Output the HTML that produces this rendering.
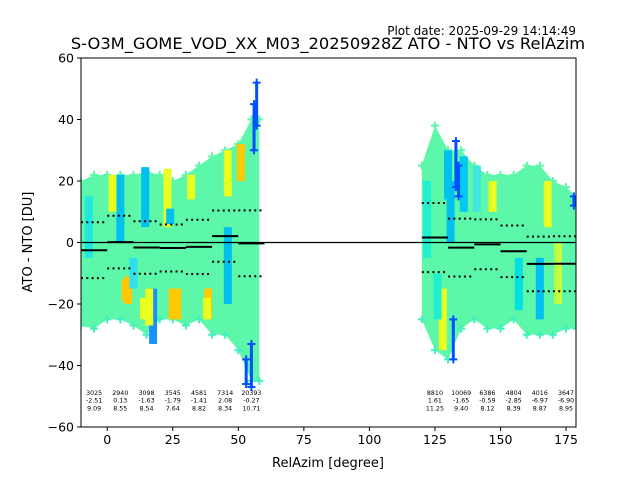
<!DOCTYPE html>
<html><head><meta charset="utf-8"><style>
html,body{margin:0;padding:0;background:#fff;width:640px;height:480px;overflow:hidden}
svg text{font-family:"DejaVu Sans","Liberation Sans",sans-serif}
</style></head><body>
<svg id="chart" width="640" height="480" viewBox="0 0 640 480" xmlns="http://www.w3.org/2000/svg">
<text x="576" y="35" font-size="12" text-anchor="end">Plot date: 2025-09-29 14:14:49</text>
<text x="328" y="49" font-size="16.3" text-anchor="middle">S-O3M_GOME_VOD_XX_M03_20250928Z ATO - NTO vs RelAzim</text>
<defs><clipPath id="pc"><rect x="81" y="58" width="495" height="369"/></clipPath></defs>
<g id="plot" clip-path="url(#pc)"></g>
<g id="axes"></g>
<rect x="81" y="58" width="495" height="369" fill="none" stroke="#000" stroke-width="1"/>
<text x="328" y="467" font-size="13" text-anchor="middle">RelAzim [degree]</text>
<text x="32" y="242" font-size="13" text-anchor="middle" transform="rotate(-90 32 242)">ATO - NTO [DU]</text>
</svg>
<script>
const xTicks=[0,25,50,75,100,125,150,175];
const yTicks=[-60,-40,-20,0,20,40,60];
const binCenters=[-5,5,15,25,35,45,55,125,135,145,155,165,175];
const binCounts=[3025,2940,3098,3545,4581,7314,20393,8810,10069,6386,4804,4016,3647];
const binMeans=[-2.51,0.13,-1.63,-1.79,-1.41,2.08,-0.27,1.61,-1.65,-0.59,-2.85,-6.97,-6.90];
const binStds=[9.09,8.55,8.54,7.64,8.82,8.34,10.71,11.25,9.40,8.12,8.39,8.87,8.95];
const leftAz=[-10,-5,0,5,10,15,20,25,30,35,40,45,50,55,58];
const leftTop=[20,22,22,22,22,23,22,20,22,25,28,30,32,40,40];
const leftBot=[-27,-28,-25,-25,-27,-30,-25,-25,-27,-25,-30,-30,-35,-45,-45];
const rightAz=[120,125,130,135,140,145,150,155,160,165,170,175,179];
const rightTop=[25,38,30,30,25,22,22,22,25,25,20,18,15];
const rightBot=[-25,-35,-38,-28,-25,-28,-28,-25,-30,-30,-30,-28,-28];
// streaks: azimuth, top value, bottom value, color
const streakAz=[5,14.5,17.5,23,24,8,26.7,14,46,51,46,38.5,2,32,7,16,25,38,130,128,131,147,168,165,122,157,172,-7,10,136,126,141];
const streakTop=[22,24.5,-15,24,11,-11,-15,-18,30,32,5,-15,22,22,-12,-15,-15,-18,30,-15,20,20,20,-5,20,-5,0,15,-5,28,-10,25];
const streakBot=[0,5,-33,5,6,-20,-25,-25,15,20,-20,-25,10,14,-19,-27,-25,-25,14,-35,0,10,5,-25,-5,-22,-20,-5,-15,10,-25,10];
const streakCol=['#00c0f0','#00c0f0','#1a90ff','#e8ff20','#00c0f0','#ffc800','#ffc800','#e8ff20','#e8ff20','#ffc800','#00c0f0','#ffc800','#e8ff20','#e8ff20','#ffc800','#e8ff20','#ffc800','#e8ff20','#00c0f0','#e8ff20','#00c0f0','#e8ff20','#e8ff20','#00c0f0','#20f0d0','#00e0e0','#c0ff40','#20e8e0','#30e0f0','#00c8f0','#20f0d0','#40e8e0'];
const blueAz=[57,56,55,53,133,134,132,178];
const blueTop=[52,45,-33,-38,33,25,-25,15];
const blueBot=[38,30,-47,-46,18,15,-38,12];

const X0=81,X1=576,Y0=58,Y1=427,xmin=-10,xmax=178.8,ymin=-60,ymax=60;
const sx=v=>X0+(v-xmin)/(xmax-xmin)*(X1-X0);
const sy=v=>Y1-(v-ymin)/(ymax-ymin)*(Y1-Y0);
const NS='http://www.w3.org/2000/svg';
const plot=document.getElementById('plot'),axes=document.getElementById('axes');
function mk(tag,attrs,parent){const e=document.createElementNS(NS,tag);for(const k in attrs)e.setAttribute(k,attrs[k]);parent.appendChild(e);return e;}

function region(az,top,bot,name){
  let pts=az.map((a,i)=>sx(a)+','+sy(top[i]));
  for(let i=az.length-1;i>=0;i--)pts.push(sx(az[i])+','+sy(bot[i]));
  const p=mk('polygon',{points:pts.join(' '),fill:'#5cf7a8'},plot);
  
  
  for(let i=0;i<az.length;i++){
    [top[i],bot[i]].forEach((v,j)=>{
      const c=mk('path',{d:`M${sx(az[i])-4},${sy(v)}h8M${sx(az[i])},${sy(v)-4}v8`,stroke:j?'#40f0c0':'#5cf7a8','stroke-width':2},plot);
      
      
    });
  }
}
region(leftAz,leftTop,leftBot,'scatter-cloud-left');
region(rightAz,rightTop,rightBot,'scatter-cloud-right');

streakAz.forEach((a,i)=>{
  const r=mk('rect',{x:sx(a)-4,y:sy(streakTop[i]),width:8,height:sy(streakBot[i])-sy(streakTop[i]),fill:streakCol[i]},plot);
  
  
});
blueAz.forEach((a,i)=>{
  const x=sx(a);
  const r=mk('rect',{x:x-1.5,y:sy(blueTop[i]),width:3,height:sy(blueBot[i])-sy(blueTop[i]),fill:'#0050ff'},plot);
  
  
  [blueTop[i],blueBot[i]].forEach(v=>{
    const c=mk('path',{d:`M${x-4},${sy(v)}h8M${x},${sy(v)-4}v8`,stroke:'#0050ff','stroke-width':2},plot);
    
    
  });
});

const zl=mk('line',{x1:X0,x2:X1,y1:sy(0),y2:sy(0),stroke:'#000','stroke-width':1.3},plot);



binCenters.forEach((c,i)=>{
  const xa=sx(c-5),xb=sx(c+5);
  const m=mk('line',{x1:xa,x2:xb,y1:sy(binMeans[i]),y2:sy(binMeans[i]),stroke:'#000','stroke-width':2},plot);
  
  
  [1,-1].forEach(s=>{
    const v=binMeans[i]+s*binStds[i];
    const d=mk('line',{x1:xa,x2:xb,y1:sy(v),y2:sy(v),stroke:'#000','stroke-width':2,'stroke-dasharray':'2,3.3'},plot);
    
    
  });
  const lines=[String(binCounts[i]),binMeans[i].toFixed(2),binStds[i].toFixed(2)];
  lines.forEach((t,j)=>{
    const tx=mk('text',{x:sx(c),y:395+j*7.7,'font-size':6.3,'text-anchor':'middle'},plot);
    tx.textContent=t;
    
    
  });
});

xTicks.forEach(t=>{
  const x=sx(t);
  const l=mk('line',{x1:x,x2:x,y1:Y1,y2:Y1+4,stroke:'#000'},axes);
  
  
  const tx=mk('text',{x:x,y:Y1+17,'font-size':12.5,'text-anchor':'middle'},axes);
  tx.textContent=t;
  
  
});
yTicks.forEach(t=>{
  const y=sy(t);
  const l=mk('line',{x1:X0-4,x2:X0,y1:y,y2:y,stroke:'#000'},axes);
  
  
  const tx=mk('text',{x:X0-7,y:y+4.5,'font-size':12.5,'text-anchor':'end'},axes);
  tx.textContent=t<0?'\u2212'+(-t):t;
  
  
});
</script>
</body></html>
